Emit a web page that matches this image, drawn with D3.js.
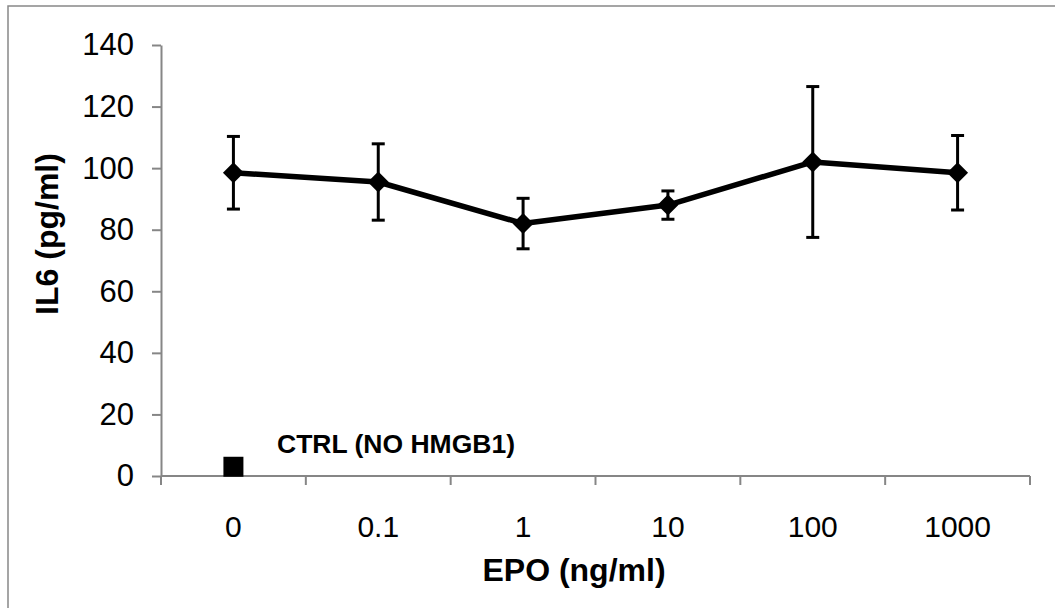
<!DOCTYPE html>
<html>
<head>
<meta charset="utf-8">
<script src="https://cdn.jsdelivr.net/npm/d3@7"></script>
<style>
  body { margin: 0; background: #fff; }
  svg text { font-family: "Liberation Sans", Arial, sans-serif; fill: #000; }
</style>
</head>
<body>
<div id="canvas"></div>
<script>
const categories = ["0", "0.1", "1", "10", "100", "1000"];
const means = [98.5, 95.5, 82.0, 88.0, 102.0, 98.5];
const errors = [11.8, 12.4, 8.2, 4.6, 24.5, 12.1];
const ctrlCategory = "0";
const ctrlValue = 3.0;
const ctrlLabel = "CTRL (NO HMGB1)";
const yTicks = [0, 20, 40, 60, 80, 100, 120, 140];

const width = 1055;
const height = 608;
const margin = { top: 45, left: 161, bottom: 132, right: 25 };

const svg = d3.select("#canvas").append("svg")
  .attr("width", width)
  .attr("height", height);

// outer frame (runs off the right and bottom edges)
svg.append("rect")
  .attr("x", 8).attr("y", 6)
  .attr("width", width + 20).attr("height", height + 20)
  .attr("fill", "none")
  .attr("stroke", "#888")
  .attr("stroke-width", 1.5);

const x = d3.scaleBand()
  .domain(categories)
  .range([margin.left, width - margin.right]);

const y = d3.scaleLinear()
  .domain([0, 140])
  .range([height - margin.bottom, margin.top]);

const axisColor = "#868686";

// y axis
const yAxis = svg.append("g")
  .attr("transform", `translate(${margin.left},0)`)
  .call(d3.axisLeft(y).tickValues(yTicks).tickSize(9).tickPadding(18).tickSizeOuter(0));
yAxis.select(".domain").attr("stroke", axisColor).attr("stroke-width", 2);
yAxis.selectAll(".tick line").attr("stroke", axisColor).attr("stroke-width", 2);
yAxis.selectAll(".tick text")
  .style("font-size", "31px")
  .attr("fill", "#000");

// x axis: ticks at category boundaries, labels centred
const xAxis = svg.append("g")
  .attr("transform", `translate(0,${y(0)})`);
xAxis.append("line")
  .attr("x1", x.range()[0]).attr("x2", x.range()[1])
  .attr("y1", 0).attr("y2", 0)
  .attr("stroke", axisColor).attr("stroke-width", 2);
const bounds = categories.map(c => x(c)).concat([x.range()[1]]);
xAxis.selectAll("line.tk").data(bounds).enter().append("line")
  .attr("class", "tk")
  .attr("x1", d => d).attr("x2", d => d)
  .attr("y1", 0).attr("y2", 9)
  .attr("stroke", axisColor).attr("stroke-width", 2);
xAxis.selectAll("text").data(categories).enter().append("text")
  .attr("x", d => x(d) + x.bandwidth() / 2)
  .attr("y", 61)
  .attr("text-anchor", "middle")
  .style("font-size", "30px")
  .text(d => d);

// axis titles
svg.append("text")
  .attr("x", 574).attr("y", 581)
  .attr("text-anchor", "middle")
  .style("font-size", "32px")
  .style("font-weight", "bold")
  .text("EPO (ng/ml)");

svg.append("text")
  .attr("transform", "translate(58,234) rotate(-90)")
  .attr("text-anchor", "middle")
  .style("font-size", "32px")
  .style("font-weight", "bold")
  .text("IL6 (pg/ml)");

const cx = d => x(d) + x.bandwidth() / 2;
const data = categories.map((c, i) => ({ c, m: means[i], e: errors[i] }));

// error bars
const eb = svg.append("g").attr("stroke", "#000").attr("stroke-width", 3);
data.forEach(d => {
  eb.append("line")
    .attr("x1", cx(d.c)).attr("x2", cx(d.c))
    .attr("y1", y(d.m + d.e)).attr("y2", y(d.m - d.e));
  [d.m + d.e, d.m - d.e].forEach(v => {
    eb.append("line")
      .attr("x1", cx(d.c) - 6.5).attr("x2", cx(d.c) + 6.5)
      .attr("y1", y(v)).attr("y2", y(v));
  });
});

// line
svg.append("path")
  .datum(data)
  .attr("fill", "none")
  .attr("stroke", "#000")
  .attr("stroke-width", 5.5)
  .attr("stroke-linejoin", "round")
  .attr("d", d3.line().x(d => cx(d.c)).y(d => y(d.m)));

// diamond markers
svg.selectAll("path.marker").data(data).enter().append("path")
  .attr("class", "marker")
  .attr("d", d3.symbol().type(d3.symbolSquare).size(220))
  .attr("transform", d => `translate(${cx(d.c)},${y(d.m)}) rotate(45)`)
  .attr("fill", "#000");

// control point
svg.append("path")
  .attr("d", d3.symbol().type(d3.symbolSquare).size(400))
  .attr("transform", `translate(${cx(ctrlCategory)},${y(ctrlValue)})`)
  .attr("fill", "#000");

svg.append("text")
  .attr("x", 277).attr("y", 453)
  .style("font-size", "26.5px")
  .style("font-weight", "bold")
  .text(ctrlLabel);
</script>
</body>
</html>
